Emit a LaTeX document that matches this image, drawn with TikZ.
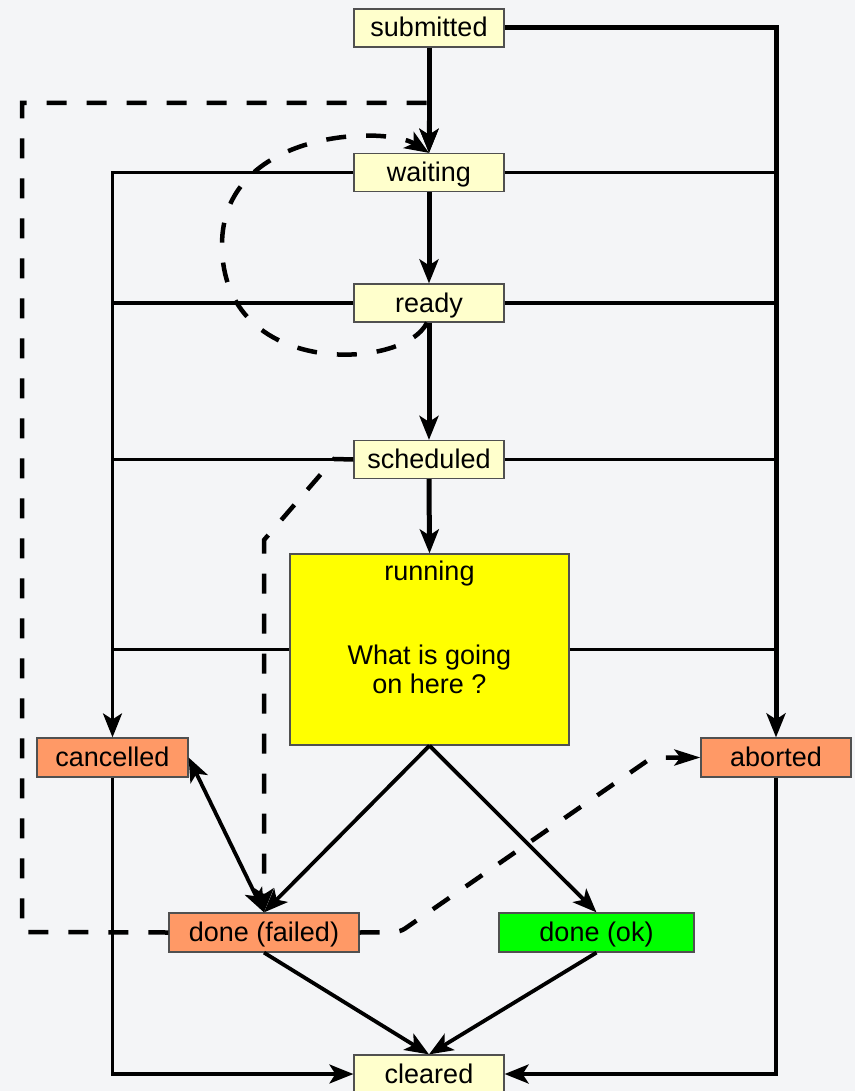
\documentclass[tikz,border=0pt]{standalone}
\usepackage{fontspec}
\setmainfont{Liberation Sans}
\usetikzlibrary{arrows.meta,calc}
\definecolor{bgcol}{HTML}{F4F5F7}
\definecolor{pale}{HTML}{FFFFCC}
\definecolor{orng}{HTML}{FF9966}
\definecolor{grn}{HTML}{00FF00}
\definecolor{yel}{HTML}{FFFF00}
\definecolor{edgecol}{HTML}{505050}
\tikzset{bigtip/.tip={Stealth[length=24pt,width=19pt,inset=6pt]}}
\begin{document}
\begin{tikzpicture}[x=1pt,y=-1pt,
  arr/.style={-bigtip},
  darr/.style={bigtip-bigtip},
  statebox/.style={draw=edgecol,line width=1.2pt,inner sep=0pt,minimum width=150pt,minimum height=38pt,
    font=\fontsize{27}{30}\selectfont,text height=22pt,text depth=4pt},
  palebox/.style={statebox,fill=pale},
  orangebox/.style={statebox,fill=orng},
  txt/.style={font=\fontsize{27}{29}\selectfont,align=center,inner sep=0pt},
  mainline/.style={line width=5pt},
  midline/.style={line width=3.8pt},
  thinline/.style={line width=3.2pt},
  dashline/.style={line width=4.5pt,dash pattern=on 20pt off 20pt},
  dashtip/.style={-{Stealth[length=26pt,width=16pt,inset=6pt]}},
]
\useasboundingbox (0,0) rectangle (855,1091);
\clip (0,0) rectangle (855,1091);
\fill[bgcol] (0,0) rectangle (855,1091);

% nodes
\node[palebox] (submitted) at (429,28) {submitted};
\node[palebox] (waiting) at (429,172.5) {waiting};
\node[palebox] (ready) at (429,303) {ready};
\node[palebox] (scheduled) at (429,459.5) {scheduled};
\node[draw=edgecol,line width=1.2pt,fill=yel,minimum width=279pt,minimum height=191pt,inner sep=0pt] (running) at (429.5,649.5) {};
\node[txt] (runtitle) at (429.5,574) {running};
\node[txt] (runtext) at (429.5,669) {What is going\\on here ?};
\node[orangebox,minimum width=151pt,minimum height=39pt] (cancelled) at (112.5,757.5) {cancelled};
\node[orangebox,minimum height=39pt] (aborted) at (776,757.5) {aborted};
\node[orangebox,minimum width=190pt,minimum height=39pt] (dfailed) at (264,932.5) {done (failed)};
\node[statebox,fill=grn,minimum width=195pt,minimum height=39pt] (dok) at (596.5,932.5) {done (ok)};
\node[palebox] (cleared) at (429,1074) {cleared};

% main chain
\draw[mainline,arr] (submitted.south) -- (waiting.north);
\draw[mainline,arr] (waiting.south) -- (ready.north);
\draw[mainline,arr] (ready.south) -- (scheduled.north);
\draw[mainline,arr] (scheduled.south) -- (running.north);

% right rail
\draw[mainline,arr] (submitted.east) -| (aborted.north);
\draw[thinline] (waiting.east) -- (waiting.east -| aborted.north);
\draw[thinline] (ready.east) -- (ready.east -| aborted.north);
\draw[thinline] (scheduled.east) -- (scheduled.east -| aborted.north);
\draw[thinline] (running.east) -- (running.east -| aborted.north);

% left rail
\draw[thinline,arr] (waiting.west) -| (cancelled.north);
\draw[thinline] (ready.west) -- (ready.west -| cancelled.north);
\draw[thinline] (scheduled.west) -- (scheduled.west -| cancelled.north);
\draw[thinline] (running.west) -- (running.west -| cancelled.north);

% running outcomes
\draw[midline,arr] (running.south) -- (dfailed.north);
\draw[midline,arr] (running.south) -- (dok.north);
\draw[midline,darr] (cancelled.east) -- (dfailed.north);
\draw[midline,arr] (dfailed.south) -- (cleared.north);
\draw[midline,arr] (dok.south) -- (cleared.north);
\draw[thinline,arr] (cancelled.south) |- (cleared.west);
\draw[midline,arr] (aborted.south) |- (cleared.east);

% dashed transitions
\coordinate (lb) at (22,932);
\coordinate (lt) at (22,103);
\coordinate (tj) at (429,103);
\draw[dashline,arr] (dfailed.west) -- (lb) -- (lt) -- (tj) -- (waiting.north);

\draw[dashline,arr] ([xshift=-2pt]ready.south) .. controls (405,370) and (222,380) .. (222,245)
  .. controls (222,130) and (385,125) .. (waiting.north);

\coordinate (sb1) at (334,459);
\coordinate (sb2) at (264,540);
\draw[dashline,arr] (scheduled.west) -- (sb1) -- (sb2) -- (dfailed.north);

\coordinate (fa1) at (400,932);
\coordinate (fa2) at (652,757.5);
\draw[dashline,dashtip,rounded corners=6pt] (dfailed.east) -- (fa1) -- (fa2) -- (aborted.west);
\end{tikzpicture}
\end{document}
